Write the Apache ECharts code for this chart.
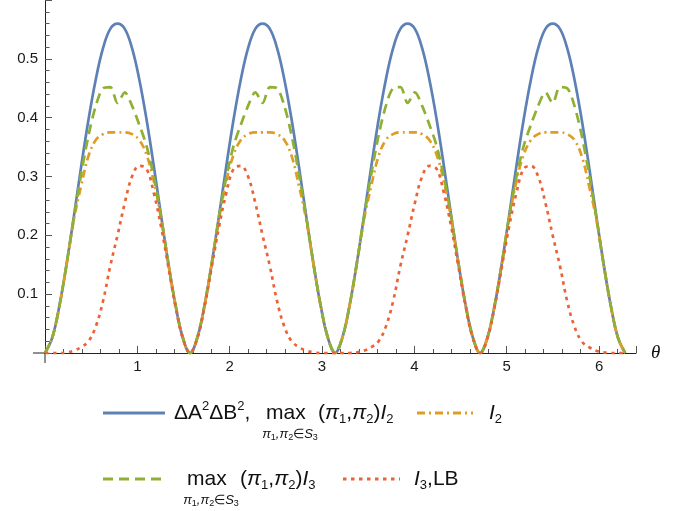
<!DOCTYPE html>
<html>
<head>
<meta charset="utf-8">
<style>
  html, body { margin: 0; padding: 0; background: #fff; }
  #chart { width: 689px; height: 511px; }
</style>
<script src="https://cdn.jsdelivr.net/npm/echarts@6/dist/echarts.min.js"></script>
</head>
<body>
<div id="chart"></div>
<script>
  // theta samples, step pi/40 from 0 to 2pi
  const theta = [
    0, 0.0785, 0.1571, 0.2356, 0.3142, 0.3927, 0.4712, 0.5498, 0.6283, 0.7069,
    0.7854, 0.8639, 0.9425, 1.0210, 1.0996, 1.1781, 1.2566, 1.3352, 1.4137, 1.4923,
    1.5708, 1.6493, 1.7279, 1.8064, 1.8850, 1.9635, 2.0420, 2.1206, 2.1991, 2.2777,
    2.3562, 2.4347, 2.5133, 2.5918, 2.6704, 2.7489, 2.8274, 2.9060, 2.9845, 3.0631,
    3.1416, 3.2201, 3.2987, 3.3772, 3.4558, 3.5343, 3.6128, 3.6914, 3.7699, 3.8485,
    3.9270, 4.0055, 4.0841, 4.1626, 4.2412, 4.3197, 4.3982, 4.4768, 4.5553, 4.6339,
    4.7124, 4.7909, 4.8695, 4.9480, 5.0265, 5.1051, 5.1836, 5.2622, 5.3407, 5.4193,
    5.4978, 5.5763, 5.6549, 5.7334, 5.8119, 5.8905, 5.9690, 6.0476, 6.1261, 6.2046,
    6.2832
  ]

  // ΔA²ΔB² and max I2 (blue, solid)
  const deltaAB = [
    0, .026, .081, .153, .234, .318, .397, .465, .518, .551, .560, .551, .518, .465, .397, .318, .234, .153, .081, .026,
    0, .026, .081, .153, .234, .318, .397, .465, .518, .551, .560, .551, .518, .465, .397, .318, .234, .153, .081, .026,
    0, .026, .081, .153, .234, .318, .397, .465, .518, .551, .560, .551, .518, .465, .397, .318, .234, .153, .081, .026,
    0, .026, .081, .153, .234, .318, .397, .465, .518, .551, .560, .551, .518, .465, .397, .318, .234, .153, .081, .026,
    0
  ]

  // I2 (orange, dot-dashed)
  const i2 = [
    0, .026, .081, .152, .228, .285, .335, .362, .372, .375, .375, .375, .372, .362, .337, .292, .228, .152, .081, .026,
    0, .026, .081, .152, .228, .292, .337, .362, .372, .375, .375, .375, .372, .362, .335, .285, .228, .152, .081, .026,
    0, .026, .081, .152, .228, .285, .335, .362, .372, .375, .375, .375, .372, .362, .337, .292, .228, .152, .081, .026,
    0, .026, .081, .152, .228, .292, .337, .362, .372, .375, .375, .375, .372, .362, .335, .285, .228, .152, .081, .026,
    0
  ]

  // max I3 (green, dashed)
  const maxI3 = [
    0, .026, .081, .153, .232, .305, .370, .420, .450, .452, .425, .443, .420, .388, .352, .299, .232, .153, .081, .026,
    0, .026, .081, .153, .232, .299, .352, .388, .420, .443, .425, .452, .450, .420, .370, .305, .232, .153, .081, .026,
    0, .026, .081, .153, .232, .305, .370, .420, .450, .452, .425, .443, .420, .388, .352, .299, .232, .153, .081, .026,
    0, .026, .081, .153, .232, .299, .352, .388, .420, .443, .425, .452, .450, .420, .370, .305, .232, .153, .081, .026,
    0
  ]

  // I3,LB (red, dotted)
  const i3LB = [
    0, 0, 0, .001, .004, .010, .020, .045, .088, .148, .200, .255, .300, .318, .313, .272, .215, .147, .079, .025,
    0, .025, .079, .147, .215, .272, .313, .318, .300, .255, .200, .148, .088, .045, .020, .010, .004, .001, 0, 0,
    0, 0, 0, .001, .004, .010, .020, .045, .088, .148, .200, .255, .300, .318, .313, .272, .215, .147, .079, .025,
    0, .025, .079, .147, .215, .272, .313, .318, .300, .255, .200, .148, .088, .045, .020, .010, .004, .001, 0, 0,
    0
  ]

  const colors = ['#5E81B5', '#E19C24', '#8FB032', '#EB6235']
  const dashes = ['solid', [8, 4, 2, 4], [10, 6], [3.5, 4.5]]
  const font = 'Liberation Sans, Arial, sans-serif'
  const axisColor = '#222'
  const tickColor = '#555'

  const pairs = arr => theta.map((t, i) => [t, arr[i]])

  const chart = echarts.init(document.getElementById('chart'))

  const makeSeries = (data, idx, smooth) => ({
    type: 'line',
    data: pairs(data),
    showSymbol: false,
    smooth: smooth,
    clip: false,
    lineStyle: { color: colors[idx], width: 2.7, type: dashes[idx], cap: 'butt' },
    itemStyle: { color: colors[idx] },
    z: 2 + idx
  })

  chart.setOption({
    animation: false,
    grid: { left: 45, top: -6, width: 591, height: 359 },
    xAxis: {
      type: 'value',
      min: 0,
      max: 6.4,
      interval: 1,
      name: 'θ',
      nameLocation: 'end',
      nameGap: 15,
      nameTextStyle: { fontFamily: 'Liberation Serif', fontStyle: 'italic', fontSize: 19, color: '#111' },
      axisLine: { onZero: true, lineStyle: { color: axisColor, width: 1 } },
      axisTick: { inside: true, length: 7, lineStyle: { color: tickColor } },
      minorTick: { show: true, splitNumber: 5, length: 4, lineStyle: { color: tickColor } },
      axisLabel: { showMinLabel: false, showMaxLabel: false, margin: 6, fontFamily: font, fontSize: 15, color: '#1a1a1a' },
      splitLine: { show: false },
      minorSplitLine: { show: false }
    },
    yAxis: {
      type: 'value',
      min: 0,
      max: 0.6,
      interval: 0.1,
      axisLine: { show: true, onZero: true, lineStyle: { color: axisColor, width: 1 } },
      axisTick: { show: true, inside: true, length: 7, lineStyle: { color: tickColor } },
      minorTick: { show: true, splitNumber: 5, length: 4.5, lineStyle: { color: tickColor } },
      axisLabel: { showMinLabel: false, showMaxLabel: false, margin: 7, fontFamily: font, fontSize: 15, color: '#1a1a1a' },
      splitLine: { show: false },
      minorSplitLine: { show: false }
    },
    series: [
      makeSeries(deltaAB, 0, 0.4),
      makeSeries(i2, 1, 0.4),
      makeSeries(maxI3, 2, 0.3),
      makeSeries(i3LB, 3, 0.4)
    ]
  })

  // legend drawn as graphics (math-style labels)
  const rich = {
    n: { fontSize: 21, fontFamily: font, lineHeight: 26 },
    it: { fontSize: 21, fontFamily: font, fontStyle: 'italic', lineHeight: 26 },
    sp: { fontSize: 13, fontFamily: font, lineHeight: 13, verticalAlign: 'top' },
    sb: { fontSize: 13, fontFamily: font, lineHeight: 13, verticalAlign: 'bottom' },
    si: { fontSize: 13, fontFamily: font, fontStyle: 'italic', lineHeight: 16 },
    su: { fontSize: 13, fontFamily: font, lineHeight: 16 },
    ss: { fontSize: 9, fontFamily: font, lineHeight: 9, verticalAlign: 'bottom' }
  }
  const txt = (x, y, text, align) => ({
    type: 'text', x: x, y: y, silent: true,
    style: {
      text: text, rich: rich, fill: '#111',
      align: align || 'left', verticalAlign: 'middle',
      textAlign: align || 'left', textVerticalAlign: 'middle'
    }
  })
  const sample = (x1, x2, y, idx) => ({
    type: 'line', silent: true,
    shape: { x1: x1, y1: y, x2: x2, y2: y },
    style: {
      stroke: colors[idx], lineWidth: 2.8,
      lineDash: dashes[idx] === 'solid' ? null : dashes[idx]
    }
  })
  const sub = '{si|π}{ss|1}{si|,π}{ss|2}{su|∈}{si|S}{ss|3}'

  const origin = chart.convertToPixel({ gridIndex: 0 }, [0, 0])

  chart.setOption({
    graphic: [
      // axis stubs past the origin
      { type: 'line', silent: true, shape: { x1: origin[0] - 12, y1: origin[1], x2: origin[0], y2: origin[1] }, style: { stroke: axisColor, lineWidth: 1 } },
      { type: 'line', silent: true, shape: { x1: origin[0], y1: origin[1], x2: origin[0], y2: origin[1] + 10 }, style: { stroke: axisColor, lineWidth: 1 } },
      // row 1
      sample(103, 165, 413, 0),
      txt(174, 413, '{n|ΔA}{sp|2}{n|ΔB}{sp|2}{n|,}'),
      txt(266, 413, '{n|max}'),
      txt(290, 434, sub, 'center'),
      txt(318, 413, '{n|(}{it|π}{sb|1}{n|,}{it|π}{sb|2}{n|)}{it|I}{sb|2}'),
      sample(417, 473, 413, 1),
      txt(489, 413, '{it|I}{sb|2}'),
      // row 2
      sample(103, 162, 479, 2),
      txt(187, 479, '{n|max}'),
      txt(211, 500, sub, 'center'),
      txt(240, 479, '{n|(}{it|π}{sb|1}{n|,}{it|π}{sb|2}{n|)}{it|I}{sb|3}'),
      sample(343, 400, 479, 3),
      txt(414, 479, '{it|I}{sb|3}{n|,LB}')
    ]
  })
</script>
</body>
</html>
